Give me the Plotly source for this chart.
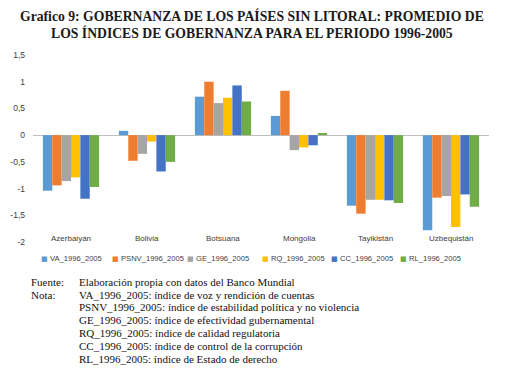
import plotly.graph_objects as go

categories = ["Azerbaiyán", "Bolivia", "Botsuana", "Mongolia", "Tayikistán", "Uzbequistán"]
series_names = ["VA_1996_2005", "PSNV_1996_2005", "GE_1996_2005", "RQ_1996_2005", "CC_1996_2005", "RL_1996_2005"]
va = [-1.04, 0.08, 0.72, 0.36, -1.32, -1.78]
psnv = [-0.94, -0.48, 1.00, 0.83, -1.47, -1.17]
ge = [-0.86, -0.35, 0.60, -0.28, -1.21, -1.14]
rq = [-0.79, -0.12, 0.70, -0.23, -1.21, -1.72]
cc = [-1.19, -0.68, 0.93, -0.19, -1.22, -1.11]
rl = [-0.97, -0.50, 0.63, 0.04, -1.27, -1.34]
series_values = [va, psnv, ge, rq, cc, rl]
colors = ["#5B9BD5", "#ED7D31", "#A5A5A5", "#FFC000", "#4472C4", "#70AD47"]
tick_vals = [1.5, 1, 0.5, 0, -0.5, -1, -1.5, -2]
tick_text = ["1,5", "1", "0,5", "0", "-0,5", "-1", "-1,5", "-2"]

title_lines = ["Grafico 9: GOBERNANZA DE LOS PAÍSES SIN LITORAL: PROMEDIO DE",
               "LOS ÍNDICES DE GOBERNANZA PARA EL PERIODO 1996-2005"]
note_labels = ["Fuente:", "Nota:", "", "", "", "", ""]
note_texts = ["Elaboración propia con datos del Banco Mundial",
              "VA_1996_2005: índice de voz y rendición de cuentas",
              "PSNV_1996_2005: índice de estabilidad política y no violencia",
              "GE_1996_2005: índice de efectividad gubernamental",
              "RQ_1996_2005: índice de calidad regulatoria",
              "CC_1996_2005: índice de control de la corrupción",
              "RL_1996_2005: índice de Estado de derecho"]

# page has an 8px body margin; figure is sized to fit the window
OFF = 8
W, H = 508 - OFF, 373 - OFF
# plot area in reference pixels: x 33..489, y 55..242
ml, mr = 33 - OFF, 508 - 489
mt, mb = 55 - OFF, 373 - 242
pw, ph = W - ml - mr, H - mt - mb

def px_x(px):
    return (px - OFF - ml) / pw

def px_y(py):
    return (H - mb - (py - OFF)) / ph

legend_text_x = [49, 120, 195, 270, 339, 408]

fig = go.Figure()
for name, vals, col in zip(series_names, series_values, colors):
    fig.add_trace(go.Bar(x=categories, y=vals, name=name, showlegend=False,
                         marker=dict(color=col, line=dict(width=0))))

fig.update_layout(
    width=W, height=H,
    margin=dict(l=ml, r=mr, t=mt, b=mb, autoexpand=False),
    paper_bgcolor="white", plot_bgcolor="white",
    barmode="group", bargap=0.26, bargroupgap=0,
    showlegend=False,
    font=dict(family="Liberation Sans", size=8, color="#404040"),
)
fig.update_xaxes(showticklabels=False, showgrid=False, showline=False, zeroline=False)
fig.update_yaxes(range=[-2, 1.5], tickvals=tick_vals, ticktext=tick_text, showgrid=False,
                 zeroline=True, zerolinecolor="#BFBFBF", zerolinewidth=1, showline=False,
                 ticklabelstandoff=7,
                 tickfont=dict(family="Liberation Sans", size=8.5, color="#404040"))

for c in categories:
    fig.add_annotation(x=c, y=-2, xref="x", yref="y", text=c, showarrow=False,
                       yanchor="middle", yshift=4,
                       font=dict(family="Liberation Sans", size=8, color="#404040"))

# legend: small coloured square + series name
for name, col, tx in zip(series_names, colors, legend_text_x):
    fig.add_annotation(x=px_x(tx), y=px_y(259), xref="paper", yref="paper",
                       xanchor="right", yanchor="middle", showarrow=False, text="■",
                       borderpad=0,
                       font=dict(family="DejaVu Sans", size=7, color=col))
    fig.add_annotation(x=px_x(tx), y=px_y(259), xref="paper", yref="paper",
                       xanchor="left", yanchor="middle", showarrow=False, text=name,
                       borderpad=0,
                       font=dict(family="Liberation Sans", size=7.6, color="#404040"))

for i, line in enumerate(title_lines):
    fig.add_annotation(x=px_x(252), y=px_y(16 + 17 * i), xref="paper", yref="paper",
                       yanchor="middle", xanchor="center", showarrow=False,
                       text="<b>" + line + "</b>",
                       font=dict(family="Liberation Serif", size=13.7, color="#1a1a1a"))

for i, (lab, txt) in enumerate(zip(note_labels, note_texts)):
    yy = 281.7 + 12.8 * i
    if lab:
        fig.add_annotation(x=px_x(29), y=px_y(yy), xref="paper", yref="paper",
                           xanchor="left", yanchor="middle", showarrow=False, text=lab,
                           font=dict(family="Liberation Serif", size=11, color="#111111"))
    fig.add_annotation(x=px_x(77), y=px_y(yy), xref="paper", yref="paper",
                       xanchor="left", yanchor="middle", showarrow=False, text=txt,
                       font=dict(family="Liberation Serif", size=11, color="#111111"))

fig.write_html("out.html")
